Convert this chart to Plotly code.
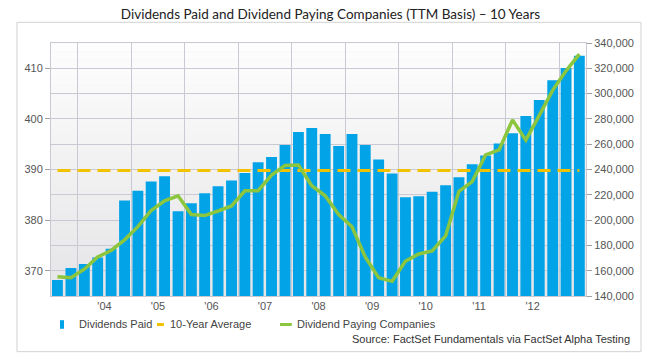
import plotly.graph_objects as go

# ---- data ----
quarters = [
    "2003-07-01", "2003-10-01",
    "2004-01-01", "2004-04-01", "2004-07-01", "2004-10-01",
    "2005-01-01", "2005-04-01", "2005-07-01", "2005-10-01",
    "2006-01-01", "2006-04-01", "2006-07-01", "2006-10-01",
    "2007-01-01", "2007-04-01", "2007-07-01", "2007-10-01",
    "2008-01-01", "2008-04-01", "2008-07-01", "2008-10-01",
    "2009-01-01", "2009-04-01", "2009-07-01", "2009-10-01",
    "2010-01-01", "2010-04-01", "2010-07-01", "2010-10-01",
    "2011-01-01", "2011-04-01", "2011-07-01", "2011-10-01",
    "2012-01-01", "2012-04-01", "2012-07-01", "2012-10-01",
    "2013-01-01", "2013-04-01",
]
dividends_paid = [
    152700, 162200, 165200, 170400, 177300, 215400, 223300, 230500,
    234700, 206900, 213300, 221200, 226700, 231300, 237300, 245800,
    249800, 259300, 269600, 272800, 268000, 258500, 268000, 259300,
    248000, 236800, 218000, 218800, 222500, 227500, 233900, 244200,
    251100, 260600, 268600, 282300, 295000, 310600, 320200, 329900,
]
paying_companies = [
    368.8, 368.6, 370.3, 372.7, 374.0, 376.1, 378.7, 381.9,
    383.8, 384.8, 381.1, 380.9, 381.8, 382.8, 385.8, 385.8,
    388.9, 390.8, 390.9, 386.8, 384.8, 381.1, 378.7, 372.7,
    368.6, 367.9, 371.9, 373.3, 373.9, 376.9, 385.7, 387.6,
    392.9, 393.9, 399.8, 395.8, 400.7, 405.7, 409.5, 412.8,
]
ten_year_average = 389.8

TITLE = "Dividends Paid and Dividend Paying Companies (TTM Basis) \u2013 10 Years"
SOURCE = "Source: FactSet Fundamentals via FactSet Alpha Testing"
NAMES = ["Dividends Paid", "10-Year Average", "Dividend Paying Companies"]

BLUE = "#03A3E8"
YELLOW = "#F2C200"
GREEN = "#8CC63E"
GRID = "#C9C9D3"
TXT = "#555555"
FONT = "Liberation Sans, Arial, sans-serif"

fig = go.Figure()

fig.add_trace(go.Bar(
    x=quarters, y=dividends_paid, name=NAMES[0],
    xperiod="M3", xperiodalignment="middle",
    marker=dict(color=BLUE, line=dict(width=0)),
    yaxis="y", showlegend=False,
))
fig.add_trace(go.Scatter(
    x=quarters, y=[ten_year_average] * len(quarters), name=NAMES[1],
    xperiod="M3", xperiodalignment="middle", mode="lines",
    line=dict(color=YELLOW, width=3, dash="13px,7px"),
    yaxis="y2", showlegend=False,
))
fig.add_trace(go.Scatter(
    x=quarters, y=paying_companies, name=NAMES[2],
    xperiod="M3", xperiodalignment="middle", mode="lines",
    line=dict(color=GREEN, width=3.5),
    yaxis="y2", showlegend=False,
))

# gradient background bands (below gridlines)
shapes = []
nb = 30
top = (253, 253, 253)
bot = (229, 229, 231)
for i in range(nb):
    t = i / (nb - 1)
    c = tuple(round(top[k] + (bot[k] - top[k]) * t) for k in range(3))
    shapes.append(dict(
        type="rect", xref="x domain", yref="y domain",
        x0=0, x1=1, y0=1 - (i + 1) / nb, y1=1 - i / nb,
        fillcolor="rgb(%d,%d,%d)" % c, line=dict(width=0), layer="below",
    ))

# outer frame
shapes.append(dict(
    type="rect", xref="paper", yref="paper",
    x0=-0.0636, x1=1.1028, y0=-0.220, y1=1.0818,
    line=dict(color="#D2D2D2", width=1), fillcolor="rgba(0,0,0,0)", layer="below",
))

# custom legend marks
LY = -0.1126
shapes.append(dict(type="rect", xref="paper", yref="paper",
                   x0=0.0168, x1=0.0243, y0=LY - 0.017, y1=LY + 0.017,
                   fillcolor=BLUE, line=dict(width=0)))
shapes.append(dict(type="line", xref="paper", yref="paper",
                   x0=0.198, x1=0.211, y0=LY, y1=LY,
                   line=dict(color=YELLOW, width=3)))
shapes.append(dict(type="line", xref="paper", yref="paper",
                   x0=0.428, x1=0.450, y0=LY, y1=LY,
                   line=dict(color=GREEN, width=3)))

annotations = [
    dict(text=NAMES[0], x=0.049, y=LY, xref="paper", yref="paper",
         xanchor="left", yanchor="middle", showarrow=False,
         font=dict(family=FONT, size=11, color="#444")),
    dict(text=NAMES[1], x=0.219, y=LY, xref="paper", yref="paper",
         xanchor="left", yanchor="middle", showarrow=False,
         font=dict(family=FONT, size=11, color="#444")),
    dict(text=NAMES[2], x=0.457, y=LY, xref="paper", yref="paper",
         xanchor="left", yanchor="middle", showarrow=False,
         font=dict(family=FONT, size=11, color="#444")),
    dict(text=SOURCE, x=1.0855, y=-0.168, xref="paper", yref="paper",
         xanchor="right", yanchor="middle", showarrow=False,
         font=dict(family=FONT, size=11, color="#333")),
]

fig.update_layout(
    width=657, height=361,
    margin=dict(l=51, r=71, t=43, b=65),
    paper_bgcolor="white", plot_bgcolor="#F0F0F0",
    bargap=0.18,
    title=dict(text=TITLE, x=0.503, xref="container", xanchor="center",
               y=1 - 14 / 361, yref="container", yanchor="middle",
               font=dict(family="Lato, Open Sans, sans-serif", size=13.5, color="#222")),
    font=dict(family=FONT, size=11, color=TXT),
    shapes=shapes, annotations=annotations,
    xaxis=dict(
        type="date", range=["2003-07-03", "2013-07-01"],
        tick0="2004-01-01", dtick="M12", tickformat="'%y",
        ticklabelmode="period", showgrid=True, gridcolor=GRID, gridwidth=1,
        ticks="", showline=True, linecolor=GRID, mirror=True,
        tickfont=dict(family=FONT, size=11, color=TXT),
    ),
    yaxis=dict(
        side="right", range=[140000, 340000], dtick=20000, tickformat=",d",
        showgrid=True, gridcolor=GRID, gridwidth=1, zeroline=False,
        ticks="outside", ticklen=5, tickcolor="#A0A0A0",
        showline=True, linecolor=GRID,
        tickfont=dict(family=FONT, size=11, color=TXT),
    ),
    yaxis2=dict(
        overlaying="y", side="left", range=[365, 415], dtick=10,
        showgrid=False, zeroline=False,
        ticks="outside", ticklen=5, tickcolor="#A0A0A0",
        showline=True, linecolor=GRID,
        tickfont=dict(family=FONT, size=11, color=TXT),
    ),
)

fig.write_html("out.html", config={"displayModeBar": False},
               post_script="document.body.style.margin='0';")
